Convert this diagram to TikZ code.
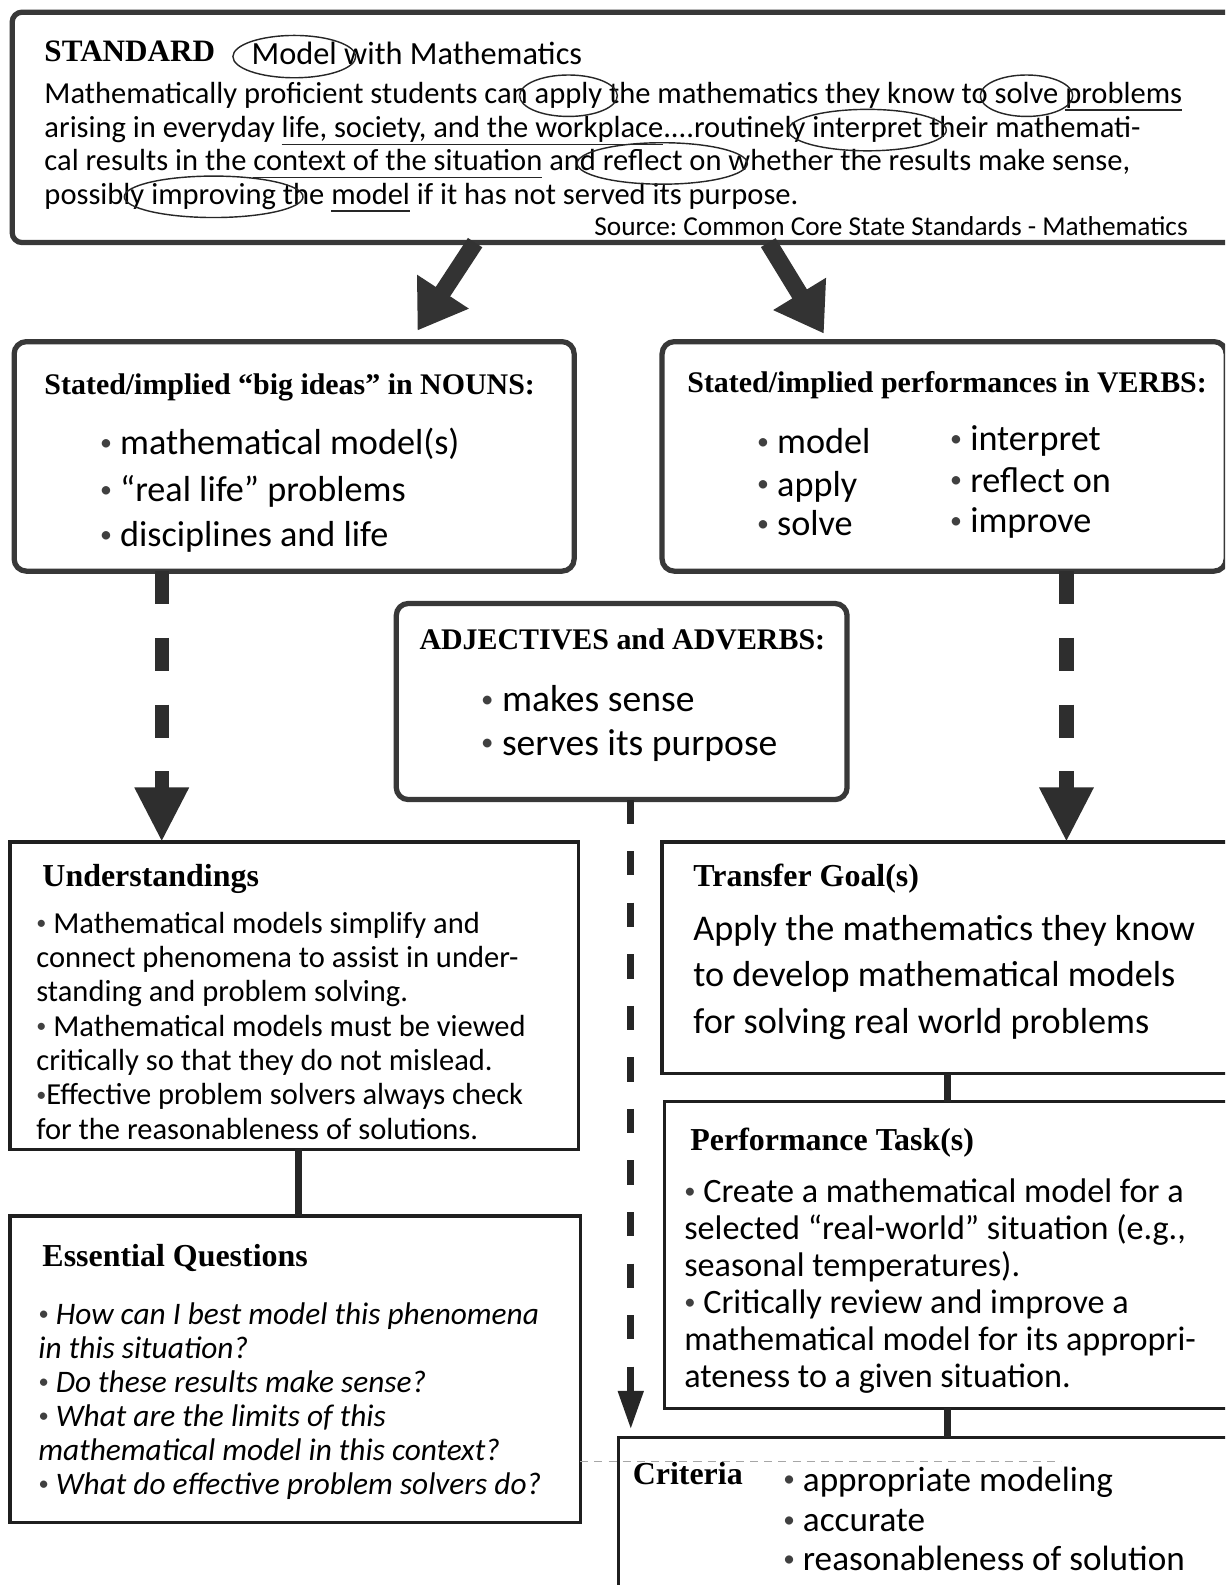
\documentclass[tikz,border=0pt]{standalone}
\usepackage{fontspec}
\usepackage{graphicx}
\setmainfont{Carlito}
\newfontfamily\headserif{Liberation Serif}
\usetikzlibrary{arrows.meta,fit,shapes.geometric}
\frenchspacing
% a trailing interword space that survives the end of a node
\newcommand{\wsp}{\ \null}
% small grey list bullet
\newcommand{\bul}{{\color{black!75}\raisebox{.12em}{\scalebox{.66}{\textbullet}}}}

\begin{document}
\begin{tikzpicture}[x=0.5pt, y=-0.5pt,
  every node/.style={inner sep=0pt, outer sep=0pt},
  rbox/.style={draw=black!78, line width=2.6pt, rounded corners=6pt},
  sbox/.style={draw=black!88, line width=1.6pt},
  head/.style={anchor=base west, font=\headserif\bfseries\fontsize{14.8}{17}\selectfont},
  lowhead/.style={anchor=base west, font=\headserif\bfseries\fontsize{15.8}{18}\selectfont},
  txt/.style={anchor=base west, font=\fontsize{15.1}{17}\selectfont},
  word/.style={txt, text height=10.5pt, text depth=3.2pt},
  bigword/.style={anchor=base west, font=\fontsize{16}{19}\selectfont, text height=11pt, text depth=3pt},
  ring/.style={draw=black!85, line width=0.7pt, ellipse, inner sep=0.4pt},
  uline/.style={draw=black!85, line width=0.7pt},
  src/.style={anchor=base west, font=\fontsize{13.5}{15}\selectfont},
  item/.style={anchor=base west, font=\fontsize{17.9}{20}\selectfont},
  adjitem/.style={anchor=base west, font=\fontsize{18.6}{21}\selectfont},
  para/.style={anchor=base west, align=left, font=\fontsize{15.1}{17}\selectfont},
  qpara/.style={anchor=base west, align=left, font=\itshape\fontsize{15.5}{16.8}\selectfont},
  goal/.style={anchor=base west, align=left, font=\fontsize{17.9}{23}\selectfont},
  task/.style={anchor=base west, align=left, font=\fontsize{16.9}{18.3}\selectfont},
  crititem/.style={anchor=base west, font=\fontsize{17.4}{20}\selectfont},
  bigarrow/.style={draw=black!80, line width=8.5pt, -{Triangle[width=29pt,length=23pt]}},
  thickdash/.style={draw=black!82, line width=7pt, dash pattern=on 16.5pt off 16.5pt,
    -{Triangle[width=25pt,length=27pt]}},
  thindash/.style={draw=black!85, line width=3.4pt, dash pattern=on 12pt off 13.5pt,
    -{Triangle[width=12pt,length=19pt]}, shorten >=4pt},
  link/.style={draw=black!85, line width=3.5pt}
]
\useasboundingbox (0,0) rectangle (1212,1568);
\fill[white] (0,0) rectangle (1212,1568);
\clip (0,0) rectangle (1212,1568);

% ---------- frames ----------
\node[rbox, rounded corners=5pt, fit={(12,12) (1222,240)}] (top) {};
\node[rbox, fit={(14,338) (568,565)}] (nouns) {};
\node[rbox, fit={(655,338) (1213,565)}] (verbs) {};
\node[rbox, fit={(392,597) (838,791)}] (adj) {};
\node[sbox, fit={(10,833) (572,1137)}] (under) {};
\node[sbox, fit={(10,1203) (574,1506)}] (eq) {};
\node[sbox, fit={(655,833) (1230,1062)}] (tg) {};
\node[sbox, fit={(657,1090) (1230,1393)}] (pt) {};
\node[sbox, fit={(612,1422) (1230,1600)}] (crit) {};

% ---------- the standard ----------
\node[head, font=\headserif\bfseries\fontsize{15.4}{17}\selectfont] (std) at (44,61) {STANDARD};
\node[bigword] (wModel) at (249,64) {Model};
\node[anchor=base west, font=\fontsize{16}{19}\selectfont] (title) at (wModel.base east) {\ with Mathematics};
\node[ring, fit=(wModel)] (rModel) {};

\node[txt] (l1a) at (44,102) {Mathematically proficient students can\wsp};
\node[word] (wApply) at (l1a.base east) {apply};
\node[txt] (l1b) at (wApply.base east) {\ the mathematics they know to\wsp};
\node[word] (wSolve) at (l1b.base east) {solve};
\node[txt] (l1c) at (wSolve.base east) {\wsp};
\node[txt] (u1) at (l1c.base east) {problems};

\node[txt] (l2a) at (44,136) {arising in everyday\wsp};
\node[txt] (u2) at (l2a.base east) {life, society, and the workplace};
\node[txt] (l2b) at (u2.base east) {....routinely\wsp};
\node[word] (wInterp) at (l2b.base east) {interpret};
\node[txt] (l2c) at (wInterp.base east) {\ their mathemati-};

\node[txt] (l3a) at (44,169) {cal results in the\wsp};
\node[txt] (u3) at (l3a.base east) {context of the situation};
\node[txt] (l3b) at (u3.base east) {\ and\wsp};
\node[word] (wReflect) at (l3b.base east) {reflect on};
\node[txt] (l3c) at (wReflect.base east) {\ whether the results make sense,};

\node[txt] (l4a) at (44,202) {possibly\wsp};
\node[word] (wImprove) at (l4a.base east) {improving};
\node[txt] (l4b) at (wImprove.base east) {\ the\wsp};
\node[txt] (u4) at (l4b.base east) {model};
\node[txt] (l4c) at (u4.base east) {\ if it has not served its purpose.};

\node[src] (source) at (588,233) {Source: Common Core State Standards - Mathematics};

\node[ring, fit=(wApply)] (rApply) {};
\node[ring, fit=(wSolve)] (rSolve) {};
\node[ring, fit=(wInterp)] (rInterp) {};
\node[ring, fit=(wReflect)] (rReflect) {};
\node[ring, fit=(wImprove)] (rImprove) {};
\foreach \u in {u1,u2,u3,u4}
  \draw[uline] ([yshift=-3.4pt]\u.base west) -- ([yshift=-3.4pt]\u.base east);

% ---------- nouns ----------
\node[head] (nounsT) at (44,390) {Stated/implied “big ideas” in NOUNS:};
\node[item] (n1) at (99,450) {\bul\ mathematical model(s)};
\node[item] (n2) at (99,496) {\bul\ “real life” problems};
\node[item] (n3) at (99,541) {\bul\ disciplines and life};

% ---------- verbs ----------
\node[head] (verbsT) at (680,388) {Stated/implied performances in VERBS:};
\node[item] (v1) at (749,449) {\bul\ model};
\node[item] (v2) at (749,491) {\bul\ apply};
\node[item] (v3) at (749,530) {\bul\ solve};
\node[item] (v4) at (940,446) {\bul\ interpret};
\node[item] (v5) at (940,487) {\bul\ reflect on};
\node[item] (v6) at (940,527) {\bul\ improve};

% ---------- adjectives / adverbs ----------
\node[head] (adjT) at (415,643) {ADJECTIVES and ADVERBS:};
\node[adjitem] (a1) at (476,704) {\bul\ makes sense};
\node[adjitem] (a2) at (476,747) {\bul\ serves its purpose};

% ---------- understandings ----------
\node[lowhead] (underT) at (42,877) {Understandings};
\node[para] (underB) at (36,1127) {\bul\ Mathematical models simplify and\\
connect phenomena to assist in under-\\
standing and problem solving.\\
\bul\ Mathematical models must be viewed\\
critically so that they do not mislead.\\
\bul Effective problem solvers always check\\
for the reasonableness of solutions.};

% ---------- essential questions ----------
\node[lowhead] (eqT) at (42,1253) {Essential Questions};
\node[qpara] (eqB) at (38,1478) {\bul\ How can I best model this phenomena\\
in this situation?\\
\bul\ Do these results make sense?\\
\bul\ What are the limits of this\\
mathematical model in this context?\\
\bul\ What do effective problem solvers do?};

% ---------- transfer goal ----------
\node[lowhead] (tgT) at (686,877) {Transfer Goal(s)};
\node[goal] (tgB) at (686,1022) {Apply the mathematics they know\\
to develop mathematical models\\
for solving real world problems};

% ---------- performance task ----------
\node[lowhead] (ptT) at (683,1138) {Performance Task(s)};
\node[task] (ptB) at (677,1373) {\bul\ Create a mathematical model for a\\
selected “real-world” situation (e.g.,\\
seasonal temperatures).\\
\bul\ Critically review and improve a\\
mathematical model for its appropri-\\
ateness to a given situation.};

% ---------- criteria ----------
\draw[gray!70, line width=0.5pt, dash pattern=on 4pt off 3pt] (eq.east |- 0,1446) -- (1050,1446);
\node[lowhead] (critT) at (626,1469) {Criteria};
\node[crititem] (c1) at (775,1475) {\bul\ appropriate modeling};
\node[crititem] (c2) at (775,1515) {\bul\ accurate};
\node[crititem] (c3) at (775,1554) {\bul\ reasonableness of solution};

% ---------- connectors ----------
\coordinate (footL) at (470,0);
\coordinate (footR) at (760,0);
\coordinate (tipL) at (413,327);
\coordinate (tipR) at (815,330);
\coordinate (colL) at (160,0);
\coordinate (colR) at (1055,0);
\coordinate (colM) at (624,0);
\coordinate (colU) at (295,0);
\coordinate (colT) at (937,0);

\draw[bigarrow] (top.south -| footL) -- (tipL);
\draw[bigarrow] (top.south -| footR) -- (tipR);
\draw[thickdash] (nouns.south -| colL) -- (under.north -| colL);
\draw[thickdash] (verbs.south -| colR) -- (tg.north -| colR);
\draw[thindash] (adj.south -| colM) -- (crit.north -| colM);
\draw[link] (under.south -| colU) -- (eq.north -| colU);
\draw[link] (tg.south -| colT) -- (pt.north -| colT);
\draw[link] (pt.south -| colT) -- (crit.north -| colT);
\end{tikzpicture}
\end{document}
